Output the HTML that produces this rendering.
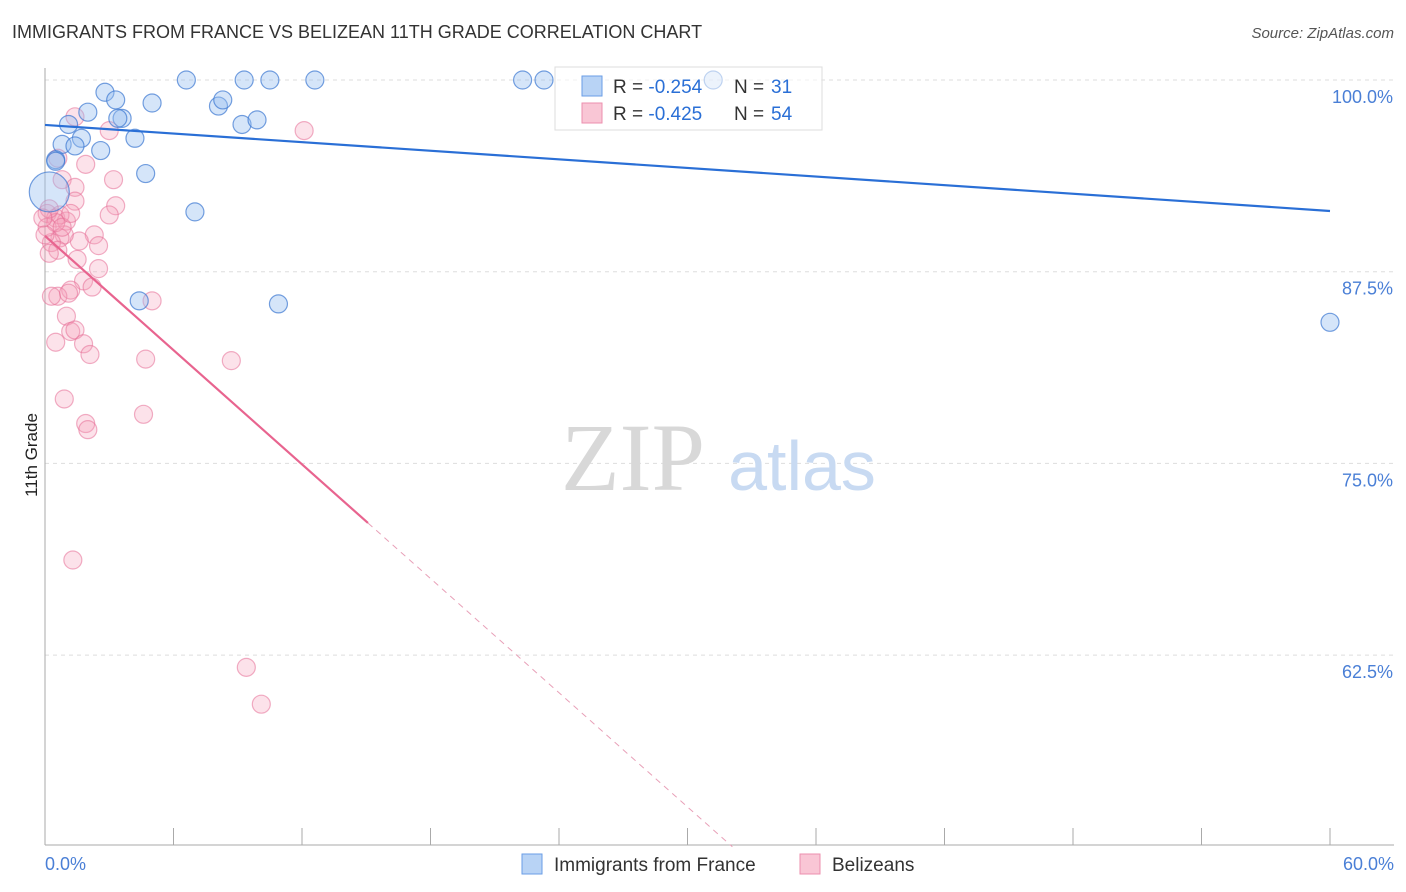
<!DOCTYPE html>
<html><head><meta charset="utf-8">
<style>
body{margin:0;background:#fff;font-family:"Liberation Sans",sans-serif;}
#c{position:relative;width:1406px;height:892px;overflow:hidden;}
.t{position:absolute;white-space:nowrap;}
</style></head><body>
<div id="c">
<div class="t" style="left:12px;top:22px;font-size:18px;color:#333;">IMMIGRANTS FROM FRANCE VS BELIZEAN 11TH GRADE CORRELATION CHART</div>
<div class="t" style="right:12px;top:25px;font-size:15px;color:#555;font-style:italic;">Source: ZipAtlas.com</div>
<div class="t" style="left:-10px;top:445px;font-size:17px;color:#222;transform:rotate(-90deg);">11th Grade</div>
<svg id="s" width="1406" height="892" style="position:absolute;left:0;top:0"></svg>
</div>
<script>
const blueX=[6.6,9.3,10.5,12.6,22.3,23.3,31.2,2.8,3.3,2.0,5.0,8.1,8.3,3.6,1.1,1.7,4.2,0.8,1.4,2.6,4.7,0.5,7.0,4.4,10.9,60.0,3.4,9.2,9.9,0.2,0.5];
const blueY=[100,100,100,100,100,100,100,99.2,98.7,97.9,98.5,98.3,98.7,97.5,97.1,96.2,96.2,95.8,95.7,95.4,93.9,94.8,91.4,85.6,85.4,84.2,97.5,97.1,97.4,92.7,94.7];
const pinkX=[1.4,3.0,12.1,0.6,1.9,0.8,3.2,1.4,1.4,3.3,3.0,0.1,0.5,1.0,0.7,2.3,1.6,0.9,0.7,0.3,2.5,0.6,0.2,1.5,2.5,1.8,2.2,1.2,0.6,0.3,1.1,1.0,1.2,1.4,0.5,1.8,2.1,4.7,8.7,5.0,0.9,1.9,2.0,4.6,1.3,9.4,10.1,0.1,0.5,0.8,0.2,0.0,1.2,-0.1];
const pinkY=[97.6,96.7,96.7,94.9,94.5,93.5,93.5,93.0,92.1,91.8,91.2,91.3,91.0,90.8,91.2,89.9,89.5,89.9,89.7,89.4,89.2,88.9,88.7,88.3,87.7,86.9,86.5,86.3,85.9,85.9,86.1,84.6,83.6,83.7,82.9,82.8,82.1,81.8,81.7,85.6,79.2,77.6,77.2,78.2,68.7,61.7,59.3,90.4,90.7,90.4,91.6,89.9,91.3,91.0];
const blueTrend=[97.07,91.46];
const pinkInt=89.83, pinkSlope=-1.241, pinkSolidEnd=15.08;
const xTicks=["0.0%","60.0%"];
const yTicks=[100,87.5,75,62.5];
const yTickLabels=["100.0%","87.5%","75.0%","62.5%"];

const NS="http://www.w3.org/2000/svg";
const s=document.getElementById('s');
const X=v=>45+v/60*1285;
const Y=v=>80+(100-v)/12.5*191.7;
function el(tag,a,p){const e=document.createElementNS(NS,tag);for(const k in a)e.setAttribute(k,a[k]);(p||s).appendChild(e);return e;}
yTicks.forEach((t,i)=>{
 const g=el('line',{x1:45,x2:1394,y1:Y(t),y2:Y(t),stroke:'#ddd','stroke-dasharray':'4,4'});
 
 
 const tx=el('text',{x:1393,y:Y(t)+23,'text-anchor':'end','font-size':18,fill:'#4a7fd6','font-family':'Liberation Sans'});
 tx.textContent=yTickLabels[i];
 
 
});
const ax=el('line',{x1:45,x2:45,y1:68,y2:845,stroke:'#aaa'});


const bx=el('line',{x1:45,x2:1394,y1:845,y2:845,stroke:'#aaa'});


for(let i=0;i<=10;i++){const tk=el('line',{x1:X(i*6),x2:X(i*6),y1:828,y2:845,stroke:'#aaa'});
 
 }
[[0,'start',45],[60,'end',1394]].forEach((d,i)=>{const tx=el('text',{x:d[2],y:870,'text-anchor':d[1],'font-size':18,fill:'#4a7fd6','font-family':'Liberation Sans'});tx.textContent=xTicks[i];
 
 });
const w1=el('text',{x:633,y:490,'text-anchor':'middle','font-size':96,fill:'#d8d8d8','font-family':'Liberation Serif'});w1.textContent='ZIP';


const w2=el('text',{x:802,y:490,'text-anchor':'middle','font-size':70,fill:'#c8daf2','font-family':'Liberation Sans'});w2.textContent='atlas';


pinkX.forEach((x,i)=>{const c=el('circle',{cx:X(x),cy:Y(pinkY[i]),r:9,fill:'rgba(244,160,185,0.3)',stroke:'rgba(230,110,150,0.55)','stroke-width':1.2});
 
 });
blueX.forEach((x,i)=>{const c=el('circle',{cx:X(x),cy:Y(blueY[i]),r:i==29?20:9,fill:'rgba(150,190,240,0.4)',stroke:'rgba(60,120,210,0.7)','stroke-width':1.2});
 
 });
const bl=el('line',{x1:X(0),y1:Y(blueTrend[0]),x2:X(60),y2:Y(blueTrend[1]),stroke:'#2a6fd6','stroke-width':2.2});


const pl=el('line',{x1:X(0),y1:Y(pinkInt),x2:X(pinkSolidEnd),y2:Y(pinkInt+pinkSlope*pinkSolidEnd),stroke:'#e8648f','stroke-width':2.2});


const xe=(50-pinkInt)/pinkSlope;
const pd=el('line',{x1:X(pinkSolidEnd),y1:Y(pinkInt+pinkSlope*pinkSolidEnd),x2:X(xe),y2:Y(50),stroke:'#e8a0b8','stroke-width':1,'stroke-dasharray':'6,5'});


const lg=el('rect',{x:555,y:67,width:267,height:63,fill:'rgba(255,255,255,0.55)',stroke:'#ddd'});


[['#b8d3f5','#6a9ee6','-0.254','31',86],['#f9c6d5','#ec8fae','-0.425','54',113]].forEach(r=>{
 const sw=el('rect',{x:582,y:r[4]-10,width:20,height:20,fill:r[0],stroke:r[1]});
 
 
 const t=el('text',{x:613,y:r[4]+7,'font-size':19,fill:'#333','font-family':'Liberation Sans'});
 t.innerHTML='R = <tspan fill="#2a6fd6">'+r[2]+'</tspan><tspan x="734">N = </tspan><tspan fill="#2a6fd6" x="771">'+r[3]+'</tspan>';
 
 
});
[[522,'#b8d3f5','#6a9ee6','Immigrants from France',554],[800,'#f9c6d5','#ec8fae','Belizeans',832]].forEach(r=>{
 const sw=el('rect',{x:r[0],y:854,width:20,height:20,fill:r[1],stroke:r[2]});
 
 
 const t=el('text',{x:r[4],y:871,'font-size':19,fill:'#333','font-family':'Liberation Sans'});t.textContent=r[3];
 
 
});
</script>
</body></html>
